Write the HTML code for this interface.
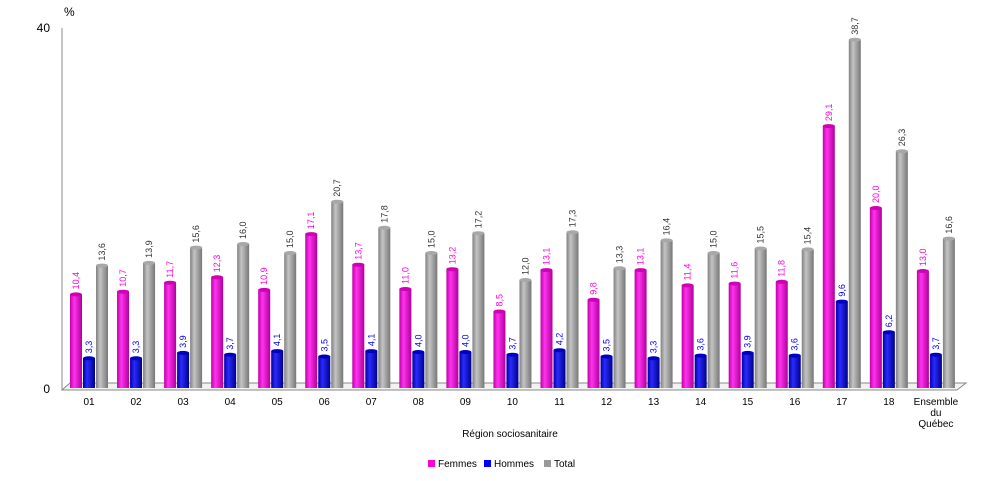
<!DOCTYPE html>
<html><head><meta charset="utf-8"><style>
body{margin:0;background:#fff;font-family:"Liberation Sans",sans-serif}
svg text{font-family:"Liberation Sans",sans-serif}
</style></head><body>
<svg width="1000" height="476" viewBox="0 0 1000 476">
<defs>
<linearGradient id="gF" x1="0" x2="1"><stop offset="0" stop-color="#c000a8"/><stop offset="0.35" stop-color="#ff33ee"/><stop offset="1" stop-color="#b0009a"/></linearGradient>
<linearGradient id="gH" x1="0" x2="1"><stop offset="0" stop-color="#0000a0"/><stop offset="0.35" stop-color="#2a2aff"/><stop offset="1" stop-color="#00008a"/></linearGradient>
<linearGradient id="gT" x1="0" x2="1"><stop offset="0" stop-color="#808080"/><stop offset="0.35" stop-color="#c4c4c4"/><stop offset="1" stop-color="#777"/></linearGradient>
</defs>
<polygon points="70,383 966,383 957,390 62,390" fill="#f2f2f2" stroke="#888" stroke-width="1"/>
<line x1="62" y1="28" x2="62" y2="390" stroke="#888"/>
<text x="64" y="16" font-size="12">%</text>
<text x="50" y="32" font-size="12" text-anchor="end">40</text>
<text x="50" y="393" font-size="12" text-anchor="end">0</text>
<g id="bars"></g>
<text x="510" y="437" font-size="10" text-anchor="middle">Région sociosanitaire</text>
<g font-size="10">
<rect x="428" y="460" width="7" height="7" fill="#ff00dd"/>
<text x="438" y="467">Femmes</text>
<rect x="484" y="460" width="7" height="7" fill="#0000ff"/>
<text x="494" y="467">Hommes</text>
<rect x="544" y="460" width="7" height="7" fill="#999"/>
<text x="554" y="467">Total</text>
</g>
</svg>
<script>
const categories=["01","02","03","04","05","06","07","08","09","10","11","12","13","14","15","16","17","18","Ensemble du Québec"];
const femmes=[10.4,10.7,11.7,12.3,10.9,17.1,13.7,11.0,13.2,8.5,13.1,9.8,13.1,11.4,11.6,11.8,29.1,20.0,13.0];
const hommes=[3.3,3.3,3.9,3.7,4.1,3.5,4.1,4.0,4.0,3.7,4.2,3.5,3.3,3.6,3.9,3.6,9.6,6.2,3.7];
const total=[13.6,13.9,15.6,16.0,15.0,20.7,17.8,15.0,17.2,12.0,17.3,13.3,16.4,15.0,15.5,15.4,38.7,26.3,16.6];
const NS="http://www.w3.org/2000/svg";
const g=document.getElementById('bars');
const y=v=>388-v*9.0;
const gx=i=>70+i*47.05;
const fmt=v=>v.toFixed(1).replace('.',',');
const series=[[femmes,'url(#gF)','#ff00dd','#d000b4','femmes'],[hommes,'url(#gH)','#0000ff','#0000c0','hommes'],[total,'url(#gT)','#333','#a8a8a8','total']];
categories.forEach((c,i)=>{
  series.forEach((s,k)=>{
    const v=s[0][i],x=gx(i)+k*13,w=12,top=y(v);
    const r=document.createElementNS(NS,'rect');
    r.setAttribute('x',x);r.setAttribute('y',top);r.setAttribute('width',w);r.setAttribute('height',388-top);
    r.setAttribute('fill',s[1]);
    
    
    g.appendChild(r);
    const e=document.createElementNS(NS,'ellipse');
    e.setAttribute('cx',x+w/2);e.setAttribute('cy',top);e.setAttribute('rx',w/2);e.setAttribute('ry',2);
    e.setAttribute('fill',s[3]);
    
    
    g.appendChild(e);
    const t=document.createElementNS(NS,'text');
    const tx=x+w/2+3,ty=top-5;
    t.setAttribute('x',tx);t.setAttribute('y',ty);t.setAttribute('font-size','9');t.setAttribute('fill',s[2]);
    t.setAttribute('transform','rotate(-90 '+tx+' '+ty+')');
    t.textContent=fmt(v);
    
    
    g.appendChild(t);
  });
  const cx=gx(i)+19;
  const lines=c==="Ensemble du Québec"?["Ensemble","du","Québec"]:[c];
  lines.forEach((l,j)=>{
    const t=document.createElementNS(NS,'text');
    t.setAttribute('x',cx);t.setAttribute('y',405+j*11);t.setAttribute('font-size','10');t.setAttribute('text-anchor','middle');
    t.textContent=l;
    
    
    g.appendChild(t);
  });
});
</script>
</body></html>
